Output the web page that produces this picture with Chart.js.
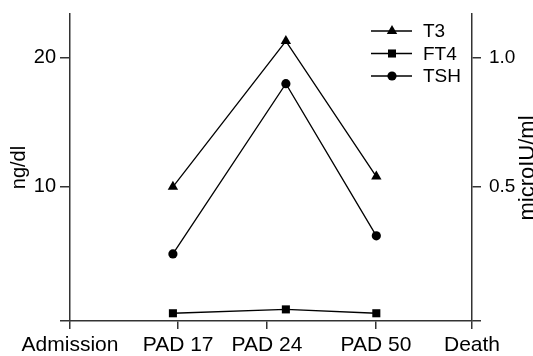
<!DOCTYPE html>
<html>
<head>
<meta charset="utf-8">
<script src="https://cdn.jsdelivr.net/npm/chart.js@4"></script>
<style>
  html, body { margin: 0; padding: 0; background: #fff; }
  #wrap { width: 533px; height: 356px; }
</style>
</head>
<body>
<div id="wrap"><canvas id="thyroidChart" width="533" height="356"></canvas></div>
<script>
// time axis: labels sit at uneven positions, samples a little off the ticks
var timeLabels = ['Admission', 'PAD 17', 'PAD 24', 'PAD 50', 'Death'];
var timeTickPos = [0, 26.9, 49, 76.1, 100];
var sampleX = [25.6, 53.7, 76.2];

// series
var t3Values = [10.0, 21.3, 10.8];    // ng/dl
var ft4Values = [0.2, 0.5, 0.2];      // ng/dl
var tshValues = [0.24, 0.90, 0.31];   // microIU/ml

// y ticks
var leftTicks = [10, 20];
var rightTicks = [0.5, 1.0];

var FONT = '"Liberation Sans", Arial, sans-serif';
var AXIS = '#333';

function points(vals) {
  return sampleX.map(function(x, i) { return { x: x, y: vals[i] }; });
}

// legend drawn in the top right corner of the plot
var cornerLegend = {
  id: 'cornerLegend',
  afterDraw: function(chart) {
    var ctx = chart.ctx;
    ctx.save();
    chart.data.datasets.forEach(function(ds, i) {
      var y = 31 + i * 22.5;
      ctx.strokeStyle = '#000';
      ctx.lineWidth = 1.3;
      ctx.beginPath();
      ctx.moveTo(371, y);
      ctx.lineTo(412, y);
      ctx.stroke();
      ctx.fillStyle = '#000';
      Chart.helpers.drawPoint(ctx, { pointStyle: ds.pointStyle, radius: ds.pointRadius, borderWidth: 0 }, 392, y);
      ctx.font = '19px ' + FONT;
      ctx.textBaseline = 'middle';
      ctx.textAlign = 'left';
      ctx.fillText(ds.label, 423, y + 1);
    });
    // right axis title reads bottom to top, cut by the edge
    ctx.translate(534, 168);
    ctx.rotate(-Math.PI / 2);
    ctx.font = '22px ' + FONT;
    ctx.textAlign = 'center';
    ctx.textBaseline = 'alphabetic';
    ctx.fillText('microIU/ml', 0, 0);
    ctx.restore();
  }
};

function noPad(scale) {
  scale.paddingTop = 0;
  scale.paddingBottom = 0;
}

var ctx = document.getElementById('thyroidChart').getContext('2d');
var thyroidChart = new Chart(ctx, {
  type: 'line',
  data: {
    datasets: [{
      label: 'T3',
      data: points(t3Values),
      yAxisID: 'y',
      borderColor: '#000',
      backgroundColor: '#000',
      borderWidth: 1.3,
      pointStyle: 'triangle',
      pointRadius: 6,
      pointBorderWidth: 0
    }, {
      label: 'FT4',
      data: points(ft4Values),
      yAxisID: 'y',
      borderColor: '#000',
      backgroundColor: '#000',
      borderWidth: 1.3,
      pointStyle: 'rect',
      pointRadius: 5.7,
      pointBorderWidth: 0
    }, {
      label: 'TSH',
      data: points(tshValues),
      yAxisID: 'y2',
      borderColor: '#000',
      backgroundColor: '#000',
      borderWidth: 1.3,
      pointStyle: 'circle',
      pointRadius: 4.6,
      pointBorderWidth: 0
    }]
  },
  options: {
    responsive: false,
    animation: false,
    devicePixelRatio: 1,
    layout: { padding: { top: 14, left: 0, right: 0, bottom: 0 } },
    plugins: {
      legend: { display: false },
      tooltip: { enabled: false }
    },
    scales: {
      x: {
        type: 'linear',
        min: 0,
        max: 100,
        afterBuildTicks: function(scale) {
          scale.ticks = timeTickPos.map(function(v) { return { value: v }; });
        },
        afterFit: function(scale) { scale.height = 35; },
        ticks: {
          autoSkip: false,
          maxRotation: 0,
          padding: 4,
          color: '#000',
          font: { family: FONT, size: 21 },
          callback: function(v) {
            var i = timeTickPos.indexOf(v);
            return i >= 0 ? timeLabels[i] : '';
          }
        },
        grid: { drawOnChartArea: false, drawTicks: true, tickLength: 8, color: AXIS, lineWidth: 1.5 },
        border: { display: true, color: AXIS, width: 1.5 }
      },
      y: {
        position: 'left',
        min: -0.4,
        max: 23.4,
        afterBuildTicks: function(scale) {
          scale.ticks = [-0.4].concat(leftTicks).map(function(v) { return { value: v }; });
        },
        afterFit: function(scale) { scale.width = 70; noPad(scale); },
        title: {
          display: true,
          text: 'ng/dl',
          color: '#000',
          font: { family: FONT, size: 20 },
          padding: { top: 7, bottom: 0 }
        },
        ticks: {
          padding: 4,
          color: '#000',
          font: { family: FONT, size: 20 },
          callback: function(v) { return leftTicks.indexOf(v) >= 0 ? String(v) : ''; }
        },
        grid: { drawOnChartArea: false, drawTicks: true, tickLength: 10, color: AXIS, lineWidth: 1.5 },
        border: { display: true, color: AXIS, width: 1.5 }
      },
      y2: {
        position: 'right',
        min: -0.02,
        max: 1.17,
        afterBuildTicks: function(scale) {
          scale.ticks = [-0.02].concat(rightTicks).map(function(v) { return { value: v }; });
        },
        afterFit: function(scale) { scale.width = 61; noPad(scale); },
        ticks: {
          padding: 8,
          color: '#000',
          font: { family: FONT, size: 19 },
          callback: function(v) { return rightTicks.indexOf(v) >= 0 ? v.toFixed(1) : ''; }
        },
        grid: { drawOnChartArea: false, drawTicks: true, tickLength: 9, color: AXIS, lineWidth: 1.5 },
        border: { display: true, color: AXIS, width: 1.5 }
      }
    }
  },
  plugins: [cornerLegend]
});
</script>
</body>
</html>
